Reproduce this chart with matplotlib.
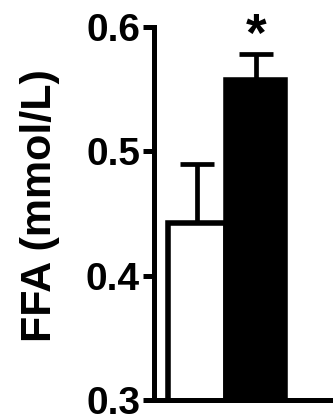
import matplotlib
matplotlib.use('Agg')
import matplotlib.pyplot as plt

plt.rcParams['font.family'] = ['Liberation Sans', 'DejaVu Sans']
plt.rcParams['font.weight'] = 'bold'

groups = ['Control', 'Treated']
means = [0.442, 0.557]
errs = [0.048, 0.021]
colors = ['white', 'black']
yticks = [0.3, 0.4, 0.5, 0.6]
ylabel = 'FFA (mmol/L)'
sig = ['', '*']

fig = plt.figure(figsize=(3.33, 4.15), dpi=100)
ax = fig.add_axes([154 / 333, 1 - 400 / 415, 1 - 154 / 333, (400 - 27) / 415])

x = list(range(len(groups)))
ax.bar(x, means, width=1.0, color=colors, edgecolor='black', linewidth=4, zorder=2)
ax.errorbar(x, means, yerr=[[0] * len(errs), errs], fmt='none', ecolor='black',
            elinewidth=3.4, capsize=12, capthick=3.4, zorder=1)
for xi, m, e, s in zip(x, means, errs, sig):
    if s:
        ax.text(xi, m + e - 0.006, s, ha='center', va='bottom', fontsize=38,
                fontweight='bold', clip_on=False)

ax.set_xlim(-0.735, 2.32)
ax.set_ylim(0.3, 0.6)
ax.set_yticks(yticks)
ax.set_yticklabels([f'{t:.1f}' for t in yticks])
ax.set_xticks([])
ax.spines['top'].set_visible(False)
ax.spines['right'].set_visible(False)
ax.spines['left'].set_linewidth(3.6)
ax.spines['bottom'].set_linewidth(3.6)
ax.tick_params(axis='y', direction='out', length=8, width=3.6, pad=2, labelsize=28)
for lab in ax.get_yticklabels():
    lab.set_fontweight('bold')

fig.text(40 / 333, 1 - 206 / 415, ylabel, rotation=90, ha='center', va='center',
         fontsize=31, fontweight='bold')

fig.savefig('out.png', dpi=100)
